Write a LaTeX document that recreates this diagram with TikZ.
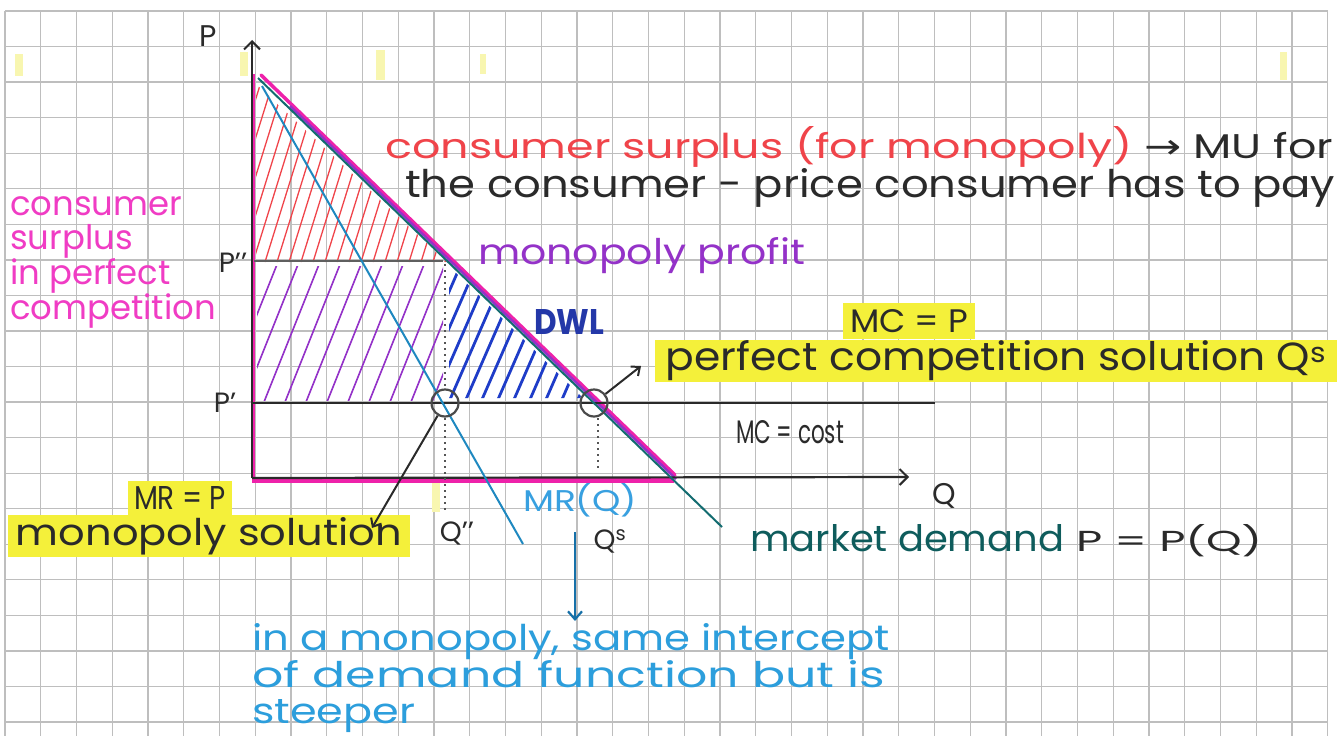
\documentclass[tikz,border=0pt]{standalone}
\usepackage{fontspec}
\setmainfont{Poppins}
\newfontfamily\symfont{DejaVu Sans}
\usetikzlibrary{arrows.meta}
\definecolor{gridc}{HTML}{BEBEBE}
\definecolor{ink}{HTML}{2A2A2A}
\definecolor{csred}{HTML}{F0444A}
\definecolor{csmag}{HTML}{F03CC4}
\definecolor{linemag}{HTML}{EE22AA}
\definecolor{profpurple}{HTML}{9432C8}
\definecolor{dwlblue}{HTML}{1E3CC8}
\definecolor{dwltext}{HTML}{2438A8}
\definecolor{demteal}{HTML}{136C70}
\definecolor{mdtext}{HTML}{0E5C5C}
\definecolor{mrblue}{HTML}{1E88C0}
\definecolor{mrtext}{HTML}{38A0E0}
\definecolor{notetext}{HTML}{2C9EDC}
\definecolor{arrowblue}{HTML}{1670A8}
\definecolor{hl}{HTML}{F4F03A}
\definecolor{yelfaint}{HTML}{F8F6B0}
\newcommand{\fitwh}[3]{\resizebox{#1bp}{#2bp}{\fontsize{40}{48}\selectfont #3}}
\begin{document}
\begin{tikzpicture}[x=1bp,y=-1bp,
  gridline/.style={gridc, line width=1.3bp},
  axisline/.style={ink, line width=2.2bp},
  barb/.style={-{Straight Barb[length=8bp,width=16bp,line width=2bp]}},
  pointer/.style={ink, line width=2bp, -{Straight Barb[length=7bp,width=12bp,line width=2bp]}},
  lbl/.style={inner sep=0pt, text=ink},
  hlbox/.style={fill=hl, inner sep=0pt, text=ink},
  solcirc/.style={circle, draw=ink!85, line width=2.2bp, minimum size=27bp, inner sep=0pt},
  dotline/.style={ink!80, line width=1.6bp, dash pattern=on 2bp off 4bp},
  hatchred/.style={csred, line width=1.3bp},
  hatchpurple/.style={profpurple, line width=1.6bp},
  hatchblue/.style={dwlblue, line width=2.8bp, line cap=round},
]
\useasboundingbox (0,0) rectangle (1341,736);
\fill[white] (0,0) rectangle (1341,736);
% grid paper
\foreach \k in {0,...,37} \draw[gridline] ({5+35.75*\k},11) -- ({5+35.75*\k},736);
\foreach \k in {0,...,20} \draw[gridline] (5,{11+35.55*\k}) -- (1328,{11+35.55*\k});
% faint highlighter bleed
\fill[yelfaint] (15,54) rectangle (23,76);
\fill[yelfaint] (240,52) rectangle (248,76);
\fill[yelfaint] (376,50) rectangle (385,80);
\fill[yelfaint] (480,54) rectangle (486,74);
\fill[yelfaint] (1280,52) rectangle (1287,80);
\fill[yelfaint] (432,482) rectangle (440,512);

% hatching: consumer surplus (monopoly)
\begin{scope}
  \clip (256,84) -- (447,262) -- (256,262) -- cycle;
  \foreach \i in {0,...,22} \draw[hatchred] ({205+\i*12},262) -- ++(56,-180);
\end{scope}
% hatching: monopoly profit
\begin{scope}
  \clip (257,266) rectangle (443,400);
  \foreach \i in {0,...,13} \draw[hatchpurple] ({180+\i*21},402) -- ++(56,-140);
\end{scope}
% hatching: DWL
\begin{scope}
  \clip (449,266) -- (449,398) -- (583,398) -- cycle;
  \foreach \i in {0,...,11} \draw[hatchblue] ({400+\i*16},404) -- ++(62,-142);
\end{scope}

% key coordinates
\coordinate (O) at (252,478);
\coordinate (Ptop) at (252,40);
\coordinate (Qend) at (909,477);
\coordinate (apex) at (258,78);
\coordinate (dend) at (722,527);
\coordinate (mrtop) at (262,86);
\coordinate (mrend) at (523,544);

% pink outline of the perfect-competition surplus
\draw[linemag, line width=4bp] (253,478) -- (253,74);
\draw[linemag, line width=5bp] (252,480) -- (674,480);
\draw[linemag, line width=3.5bp, line cap=round] (261,75) -- (675,475);
\draw[profpurple, line width=2.5bp] (290,106) -- (676,479);

% axes
\draw[axisline, barb] (O) -- (Ptop);
\draw[axisline, barb] (O) -- (Qend);
% price lines
\draw[ink!75, line width=1.3bp] (254,261) -- (443,261);
\draw[axisline] (252,403) -- (935,403);

% demand and MR
\draw[demteal, line width=2bp] (apex) -- (dend);
\draw[mrblue, line width=2bp] (mrtop) -- (mrend);

% dotted quantity guides
\draw[dotline] (445,264) -- (445,390);
\draw[dotline] (445,418) -- (445,512);
\draw[dotline] (598,418) -- (598,470);

% solution circles
\node[solcirc] (msol) at (445,403) {};
\node[solcirc] (psol) at (594,403) {};

% axis labels
\node[lbl, font=\fontsize{30}{30}\selectfont] (plab) at (208,36) {P};
\node[lbl, font=\fontsize{30}{30}\selectfont] (qlab) at (944,496) {Q};
\node[lbl, font=\fontsize{28}{28}\selectfont] (p2lab) at (233,263) {P'{}'};
\node[lbl, font=\fontsize{28}{28}\selectfont] (p1lab) at (225,403) {P'};
\node[lbl, font=\fontsize{28}{28}\selectfont] (q2lab) at (457,533) {Q'{}'};
\node[lbl, font=\fontsize{28}{28}\selectfont] (qslab) at (610,541) {Q\textsuperscript{s}};

% annotations
\node[lbl, anchor=base west] (cstext) at (385,158) {\fitwh{948}{32}{\textcolor{csred}{consumer surplus (for monopoly)} {\symfont →} MU for}};
\node[lbl, anchor=base west] (cstext2) at (405,197) {\fitwh{930}{29}{the consumer - price consumer has to pay}};
\node[lbl, anchor=north west, align=left, text=csmag, font=\fontsize{34}{35}\selectfont] (pctext) at (10,196) {consumer\\surplus\\in perfect\\competition};
\node[lbl, anchor=base west, text=profpurple] (proftext) at (478,264) {\fitwh{327}{27}{monopoly profit}};
\node[lbl, anchor=base, text=dwltext, font=\bfseries] (dwl) at (569,334) {\fitwh{70}{25}{DWL}};

\node[hlbox, minimum width=132bp, minimum height=36bp] (mcp) at (909,321) {\fitwh{118}{23}{MC = P}};
\node[hlbox, minimum width=682bp, minimum height=42bp] (pctitle) at (996,361) {\fitwh{660}{30}{perfect competition solution Q\textsuperscript{s}}};
\node[lbl] (mccost) at (790,432) {\fitwh{108}{23}{MC = cost}};

\node[hlbox, minimum width=104bp, minimum height=34bp] (mrp) at (180,498) {\fitwh{92}{23}{MR = P}};
\node[hlbox, minimum width=402bp, minimum height=42bp] (monsol) at (209,536) {\fitwh{386}{28}{monopoly solution}};
\node[lbl, text=mrtext] (mrq) at (580,500) {\fitwh{114}{28}{MR(Q)}};
\node[lbl, anchor=base west, text=mdtext] (mdem) at (750,551) {\fitwh{314}{27}{market demand}};
\node[lbl, anchor=base west] (pfun) at (1076,551) {\fitwh{186}{27}{P = P(Q)}};

\node[lbl, anchor=north west, align=left, text=notetext, font=\fontsize{30}{37}\selectfont] (note) at (252,623)
  {\fitwh{638}{27}{in a monopoly, same intercept}\\\fitwh{633}{27}{of demand function but is}\\\fitwh{163}{24}{steeper}};

% pointers
\coordinate (mtip) at (372,528);
\coordinate (ptip) at (641,366);
\coordinate (bstart) at (575,532);
\coordinate (bend) at (575,621);
\draw[pointer] (msol) -- (mtip);
\draw[pointer] (psol) -- (ptip);
\draw[arrowblue, line width=2.4bp, -{Straight Barb[length=8bp,width=14bp,line width=2.2bp]}] (bstart) -- (bend);
\end{tikzpicture}
\end{document}
